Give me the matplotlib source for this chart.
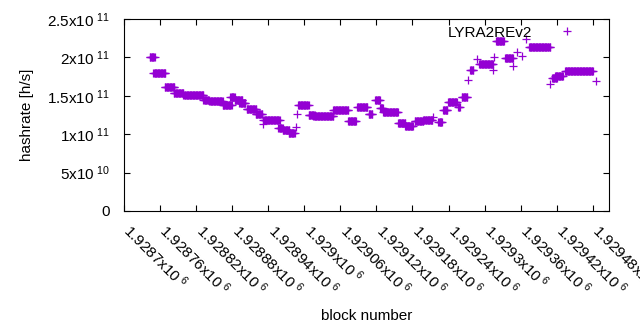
import numpy as np
import matplotlib
matplotlib.use("Agg")
import matplotlib.pyplot as plt
import matplotlib.transforms as mtransforms

plt.rcParams['font.family'] = ['Liberation Sans', 'DejaVu Sans']
plt.rcParams['mathtext.default'] = 'regular'

# runs of equal hashrate: first block, last block, value [h/s]
run_start = [1928743, 1928749, 1928768, 1928783, 1928799, 1928832, 1928842, 1928864,
             1928877, 1928884, 1928892, 1928904, 1928919, 1928932, 1928932, 1928957,
             1928964, 1928974, 1928986, 1928988, 1928990, 1929007, 1929015, 1929048,
             1929073, 1929088, 1929107, 1929118, 1929126, 1929131, 1929156, 1929168,
             1929184, 1929198, 1929214, 1929223, 1929231, 1929239, 1929256, 1929262,
             1929272, 1929276, 1929287, 1929291, 1929314, 1929316, 1929319, 1929334,
             1929347, 1929354, 1929362, 1929369, 1929374, 1929409, 1929412, 1929417,
             1929434, 1929485]
run_end = [1928751, 1928769, 1928784, 1928799, 1928832, 1928841, 1928864, 1928879,
           1928884, 1928897, 1928902, 1928920, 1928930, 1928932, 1928959, 1928964,
           1928975, 1928984, 1928986, 1928988, 1929007, 1929017, 1929048, 1929073,
           1929086, 1929105, 1929113, 1929126, 1929131, 1929156, 1929168, 1929181,
           1929198, 1929213, 1929214, 1929229, 1929238, 1929254, 1929259, 1929271,
           1929272, 1929281, 1929287, 1929314, 1929314, 1929316, 1929332, 1929347,
           1929347, 1929354, 1929362, 1929369, 1929409, 1929409, 1929420, 1929430,
           1929480, 1929485]
run_value = [2.0e11, 1.8e11, 1.62e11, 1.53e11, 1.505e11, 1.44e11, 1.43e11, 1.375e11,
             1.48e11, 1.44e11, 1.40e11, 1.325e11, 1.26e11, 1.13e11, 1.18e11, 1.085e11,
             1.055e11, 1.01e11, 1.10e11, 1.26e11, 1.375e11, 1.25e11, 1.24e11, 1.31e11,
             1.17e11, 1.35e11, 1.265e11, 1.44e11, 1.34e11, 1.285e11, 1.14e11, 1.105e11,
             1.175e11, 1.19e11, 1.22e11, 1.16e11, 1.315e11, 1.42e11, 1.36e11, 1.49e11,
             1.705e11, 1.835e11, 1.975e11, 1.91e11, 1.835e11, 2.0e11, 2.21e11, 1.99e11,
             1.89e11, 2.065e11, 2.02e11, 2.24e11, 2.13e11, 1.66e11, 1.73e11, 1.76e11,
             1.825e11, 1.69e11]

xticks = [1928700 + 60 * i for i in range(14)]
xticklabels = [r'$1.9287x10^{\ 6}$', r'$1.92876x10^{\ 6}$', r'$1.92882x10^{\ 6}$',
               r'$1.92888x10^{\ 6}$', r'$1.92894x10^{\ 6}$', r'$1.929x10^{\ 6}$',
               r'$1.92906x10^{\ 6}$', r'$1.92912x10^{\ 6}$', r'$1.92918x10^{\ 6}$',
               r'$1.92924x10^{\ 6}$', r'$1.9293x10^{\ 6}$', r'$1.92936x10^{\ 6}$',
               r'$1.92942x10^{\ 6}$', r'$1.92948x10^{\ 6}$']
yticks = [0, 5e10, 1e11, 1.5e11, 2e11, 2.5e11]
yticklabels = ['0', r'$5x10^{\ 10}$', r'$1x10^{\ 11}$', r'$1.5x10^{\ 11}$',
               r'$2x10^{\ 11}$', r'$2.5x10^{\ 11}$']

blocks = []
rates = []
for s, e, v in zip(run_start, run_end, run_value):
    for b in range(s, e + 1):
        blocks.append(b)
        rates.append(v)

fig = plt.figure(figsize=(6.4, 3.3), dpi=100)
ax = fig.add_axes([124 / 640, 1 - 211 / 330, 485 / 640, 192 / 330])
ax.plot(blocks, rates, '+', color='#9400d3', markersize=6, mew=0.9, label='LYRA2REv2')

ax.set_xlim(1928700, 1929507)
ax.set_ylim(0, 2.5e11)
ax.set_xticks(xticks)
ax.set_xticklabels(xticklabels, rotation=-45, ha='left', va='center', rotation_mode='anchor')
ax.set_yticks(yticks)
ax.set_yticklabels(yticklabels)
ax.tick_params(direction='in', length=4, width=0.8, top=True, right=True, labelsize=11)
ax.tick_params(axis='x', pad=11.5)
ax.tick_params(axis='y', pad=10)
for sp in ax.spines.values():
    sp.set_linewidth(0.8)

shift = mtransforms.ScaledTranslation(3 / 100, 0, fig.dpi_scale_trans)
for lab in ax.get_xticklabels():
    lab.set_transform(lab.get_transform() + shift)

ax.set_xlabel('block number', fontsize=11, labelpad=8)
ax.set_ylabel('hashrate [h/s]', fontsize=11, labelpad=10)

ax.legend(loc='upper right', bbox_to_anchor=(0.977, 0.965), frameon=False, markerfirst=False,
          fontsize=11, handlelength=4, handletextpad=0.3, borderpad=0, borderaxespad=0)

fig.savefig('out.png', dpi=100)
